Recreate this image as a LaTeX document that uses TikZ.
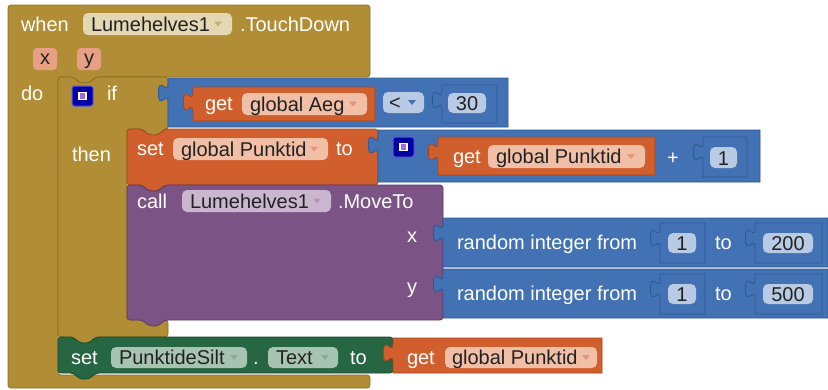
\documentclass[tikz,border=0pt]{standalone}
\usepackage{fontspec}
\setmainfont{Liberation Sans}
\definecolor{ctl}{HTML}{B18E35}
\definecolor{ctlD}{HTML}{8C6F26}
\definecolor{ctlF}{HTML}{E4D7B4}
\definecolor{par}{HTML}{E8A085}
\definecolor{mth}{HTML}{4272B4}
\definecolor{mthD}{HTML}{2D5894}
\definecolor{mthF}{HTML}{B8CAE4}
\definecolor{var}{HTML}{D05F2D}
\definecolor{varD}{HTML}{A5461C}
\definecolor{varF}{HTML}{F1BEA6}
\definecolor{prc}{HTML}{7B5385}
\definecolor{prcD}{HTML}{5C3B66}
\definecolor{prcF}{HTML}{CAB7CF}
\definecolor{cmp}{HTML}{266643}
\definecolor{cmpD}{HTML}{184A30}
\definecolor{cmpF}{HTML}{A7C4B2}
\definecolor{mutB}{HTML}{0000A5}
\definecolor{mutE}{HTML}{5A5AD8}
\definecolor{mutI}{HTML}{9C6FE0}
\definecolor{ink}{HTML}{222222}
\tikzset{
  wt/.style={anchor=base west, inner sep=0pt, outer sep=0pt, text=white, font=\fontsize{20}{24}\selectfont},
  dk/.style={wt, text=ink},
  blk/.style={line width=0.8pt, line join=round},
  fieldbox/.style={rounded corners=5pt},
}
% value block with output tab: x1 y1 x2 y2 fill draw
\newcommand\valblk[6]{%
  \filldraw[blk,fill=#5,draw=#6] (#1,#2) -- (#1,#2+6)
    .. controls (#1,#2+18) and (#1-9.6,#2-3.6) .. (#1-9.6,#2+15)
    .. controls (#1-9.6,#2+33.6) and (#1,#2+12) .. (#1,#2+24)
    -- (#1,#4) -- (#3,#4) -- (#3,#2) -- cycle;}
% statement block with notch and next tab
\newcommand\stmblk[6]{%
  \filldraw[blk,fill=#5,draw=#6,rounded corners=3pt] (#1,#2) -- (#1+15,#2) -- (#1+22,#2+6) -- (#1+31,#2+6) -- (#1+38,#2)
    -- (#3,#2) -- (#3,#4) -- (#1+38,#4) -- (#1+31,#4+6) -- (#1+22,#4+6) -- (#1+15,#4) -- (#1,#4) -- cycle;}
\newcommand\darr[3]{\fill[#3] (#1-4,#2-2.5) -- (#1+4,#2-2.5) -- (#1,#2+2.5) -- cycle;}
\newcommand\mutator[2]{%
  \filldraw[fill=mutB,draw=mutE,line width=1pt,rounded corners=2.5pt] (#1,#2) rectangle (#1+21,#2+20);
  \filldraw[fill=mutI,draw=white,line width=1.2pt] (#1+7,#2+6.5) rectangle (#1+14,#2+13.5);}
\begin{document}
\begin{tikzpicture}[x=1pt,y=-1pt]
\useasboundingbox (0,0) rectangle (828,389);
% ---------- event block
\filldraw[blk,fill=ctl,draw=ctlD,rounded corners=3pt] (8,5) -- (370,5) -- (370,77) -- (96,77) -- (89,83) -- (80,83) -- (73,77) -- (58,77) -- (58,375) -- (370,375) -- (370,388) -- (8,388) -- cycle;
\fill[ctlF,fieldbox] (83,13) rectangle (232,35);
\node[wt] (when) at (21,31) {when};
\node[dk] (evc) at (91,31) {Lumehelves1};
\darr{218}{24}{ctl!70!white}
\node[wt] (evn) at (240,31) {.TouchDown};
\fill[par,rounded corners=4pt] (33,48) rectangle (57,70);
\node[dk,anchor=base] (px) at (45,64) {x};
\fill[par,rounded corners=4pt] (77,48) rectangle (101,70);
\node[dk,anchor=base] (py) at (89,64) {y};
\node[wt] (do) at (21,100) {do};
% ---------- if block
\filldraw[blk,fill=ctl,draw=ctlD,rounded corners=3pt] (58,77) -- (73,77) -- (80,83) -- (89,83) -- (96,77) -- (168,77) -- (168,129) -- (165,129) -- (158,135) -- (149,135) -- (142,129) -- (127,129) -- (127,320) -- (168,320) -- (168,337) -- (96,337) -- (89,343) -- (80,343) -- (73,337) -- (58,337) -- cycle;
\mutator{72}{86}
\node[wt] (if) at (107,100) {if};
\node[wt] (then) at (72,161) {then};
% ---------- compare
\valblk{168}{78}{508}{127}{mth}{mthD}
\valblk{193}{87}{375}{121}{var}{varD}
\node[wt] (g1) at (205,110) {get};
\fill[varF,fieldbox] (242,93) rectangle (367,115);
\node[dk] (g1v) at (250,111) {global Aeg};
\darr{353}{104}{var!65!white}
\fill[mthF,fieldbox] (383,92) rectangle (424,113);
\node[dk] (op) at (389,109) {<};
\darr{412}{102.5}{mth}
\valblk{442}{85}{497}{123}{mth}{mthD}
\fill[mthF,fieldbox] (448,93) rectangle (486,113);
\node[dk,anchor=base] (n30) at (467,110) {30};
% ---------- set global Punktid
\stmblk{127}{129}{378}{185}{var}{varD}
\node[wt] (s1) at (137,155) {set};
\fill[varF,fieldbox] (173,138) rectangle (328,160);
\node[dk] (s1v) at (181,156) {global Punktid};
\darr{314}{149}{var!65!white}
\node[wt] (s1to) at (336,155) {to};
\valblk{378}{130}{760}{182}{mth}{mthD}
\mutator{393}{137}
\valblk{438}{137}{655}{175}{var}{varD}
\node[wt] (g2) at (453,163) {get};
\fill[varF,fieldbox] (488,145) rectangle (645,168);
\node[dk] (g2v) at (496,163) {global Punktid};
\darr{631}{156.5}{var!65!white}
\node[wt,anchor=base] (plus) at (673,164) {+};
\valblk{703}{137}{747}{177}{mth}{mthD}
\fill[mthF,fieldbox] (710,147) rectangle (737,168);
\node[dk,anchor=base] (n1) at (723.5,165) {1};
% ---------- call MoveTo
\stmblk{127}{185}{443}{320}{prc}{prcD}
\node[wt] (call) at (137,208) {call};
\fill[prcF,fieldbox] (182,190) rectangle (331,212);
\node[dk] (cc) at (190,208) {Lumehelves1};
\darr{317}{201}{prc!60!white}
\node[wt] (mv) at (338,208) {.MoveTo};
\node[wt,anchor=base east] (ax) at (417,242) {x};
\node[wt,anchor=base east] (ay) at (417,293) {y};
% random 1
\valblk{443}{218}{828}{267}{mth}{mthD}
\node[wt] (r1) at (457,249) {random integer from};
\valblk{660}{223}{705}{263}{mth}{mthD}
\fill[mthF,fieldbox] (668,233) rectangle (696,253);
\node[dk,anchor=base] (r1a) at (682,250) {1};
\node[wt] (r1to) at (715,249) {to};
\valblk{755}{223}{822}{263}{mth}{mthD}
\fill[mthF,fieldbox] (763,233) rectangle (813,253);
\node[dk,anchor=base] (r1b) at (788,250) {200};
% random 2
\valblk{443}{269}{828}{318}{mth}{mthD}
\node[wt] (r2) at (457,300) {random integer from};
\valblk{660}{274}{705}{314}{mth}{mthD}
\fill[mthF,fieldbox] (668,284) rectangle (696,304);
\node[dk,anchor=base] (r2a) at (682,301) {1};
\node[wt] (r2to) at (715,300) {to};
\valblk{755}{274}{822}{314}{mth}{mthD}
\fill[mthF,fieldbox] (763,284) rectangle (813,304);
\node[dk,anchor=base] (r2b) at (788,301) {500};
% ---------- set PunktideSilt.Text
\stmblk{58}{337}{393}{373}{cmp}{cmpD}
\node[wt] (s2) at (71,364) {set};
\fill[cmpF,fieldbox] (111,347) rectangle (247,368);
\node[dk] (s2c) at (119,364) {PunktideSilt};
\darr{234}{357.5}{cmp!55!white}
\node[wt] (dot) at (253,364) {.};
\fill[cmpF,fieldbox] (268,347) rectangle (338,368);
\node[dk] (s2p) at (276,364) {Text};
\darr{325}{357.5}{cmp!55!white}
\node[wt] (s2to) at (350,364) {to};
\valblk{393}{338}{602}{373}{var}{varD}
\node[wt] (g3) at (407,364) {get};
\fill[varF,fieldbox] (445,347) rectangle (597,368);
\node[dk] (g3v) at (452,364) {global Punktid};
\darr{586}{357.5}{var!65!white}
\end{tikzpicture}
\end{document}
